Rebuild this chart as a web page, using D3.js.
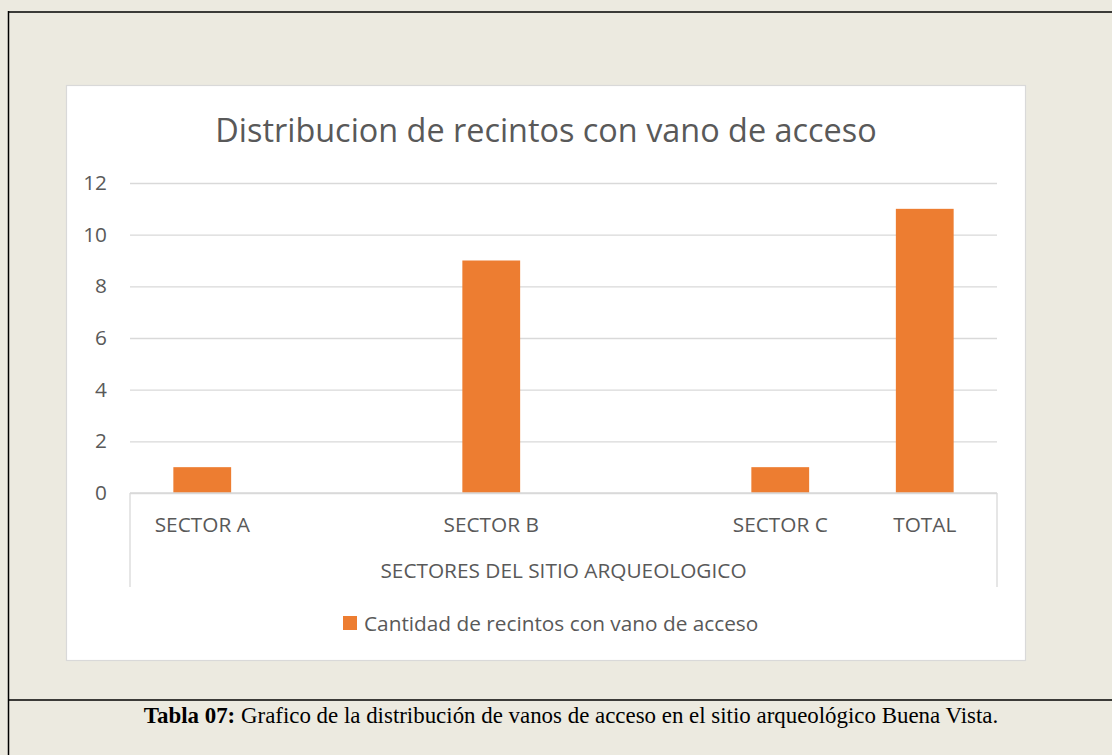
<!DOCTYPE html>
<html>
<head>
<meta charset="utf-8">
<script src="https://cdn.jsdelivr.net/npm/d3@7"></script>
<style>
  html, body { margin: 0; padding: 0; background: #ECEAE0; }
  svg { display: block; }
</style>
</head>
<body>
<svg id="chart" width="1112" height="755"></svg>
<script>
// Categories along the x axis (empty slots are blank positions in the sheet)
const categories = ["SECTOR A", "", "SECTOR B", "", "SECTOR C", "TOTAL"];
// Number of enclosures with an access opening per category
const values = [1, null, 9, null, 1, 11];
const yTicks = [0, 2, 4, 6, 8, 10, 12];
const seriesName = "Cantidad de recintos con vano de acceso";
const groupLabel = "SECTORES DEL SITIO ARQUEOLOGICO";
const title = "Distribucion de recintos con vano de acceso";

const svg = d3.select("#chart");
const textColor = "#595959";
const gridColor = "#D9D9D9";
const barColor = "#ED7D31";
const uiFont = "'Open Sans', Lato, sans-serif";
const labelSize = 20.8;

// Page frame: background, outer rules
svg.append("rect").attr("width", 1112).attr("height", 755).attr("fill", "#ECEAE0");
svg.append("line").attr("x1", 8).attr("x2", 1112).attr("y1", 12).attr("y2", 12)
  .attr("stroke", "#000").attr("stroke-width", 1.5);
svg.append("line").attr("x1", 8.5).attr("x2", 8.5).attr("y1", 11).attr("y2", 755)
  .attr("stroke", "#000").attr("stroke-width", 1.5);
svg.append("line").attr("x1", 8).attr("x2", 1112).attr("y1", 700).attr("y2", 700)
  .attr("stroke", "#000").attr("stroke-width", 1.5);

// Chart area
svg.append("rect").attr("x", 66.5).attr("y", 85.5).attr("width", 959).attr("height", 575)
  .attr("fill", "#fff").attr("stroke", gridColor).attr("stroke-width", 1.2);

const plot = { left: 130, right: 997, top: 183, bottom: 493 };

const x = d3.scaleBand()
  .domain(d3.range(categories.length))
  .range([plot.left, plot.right])
  .paddingInner(0.6).paddingOuter(0.3);

// Band used for category labels (full slot width)
const slot = d3.scaleBand()
  .domain(d3.range(categories.length))
  .range([plot.left, plot.right]);

const y = d3.scaleLinear().domain([0, 12]).range([plot.bottom, plot.top]);

// Title
svg.append("text")
  .attr("x", 546).attr("y", 142)
  .attr("text-anchor", "middle")
  .attr("font-family", uiFont).attr("font-size", 32.4)
  .attr("fill", textColor)
  .text(title);

// Gridlines and y labels
const yAxis = d3.axisLeft(y).tickValues(yTicks).tickSize(-(plot.right - plot.left)).tickPadding(23);
const gy = svg.append("g").attr("transform", `translate(${plot.left},0)`).call(yAxis);
gy.select(".domain").remove();
gy.selectAll(".tick line").attr("stroke", gridColor).attr("stroke-width", 1.3);
gy.selectAll(".tick text")
  .attr("font-family", uiFont).attr("font-size", labelSize).attr("fill", textColor);

// Bars
svg.append("g").selectAll("rect")
  .data(values.map((v, i) => ({ i, v })).filter(d => d.v != null))
  .join("rect")
  .attr("x", d => x(d.i))
  .attr("width", x.bandwidth())
  .attr("y", d => y(d.v))
  .attr("height", d => y(0) - y(d.v))
  .attr("fill", barColor);

// Category axis with group level
const gx = svg.append("g");
gx.append("line").attr("x1", plot.left).attr("x2", plot.right)
  .attr("y1", plot.bottom).attr("y2", plot.bottom)
  .attr("stroke", gridColor).attr("stroke-width", 1.3);
[plot.left, plot.right].forEach(px => {
  gx.append("line").attr("x1", px).attr("x2", px)
    .attr("y1", plot.bottom).attr("y2", 587)
    .attr("stroke", gridColor).attr("stroke-width", 1.3);
});
gx.selectAll("text.cat")
  .data(categories.map((c, i) => ({ c, i })).filter(d => d.c))
  .join("text")
  .attr("class", "cat")
  .attr("x", d => slot(d.i) + slot.bandwidth() / 2)
  .attr("y", 532)
  .attr("text-anchor", "middle")
  .attr("font-family", uiFont).attr("font-size", labelSize).attr("fill", textColor)
  .text(d => d.c);
gx.append("text")
  .attr("x", (plot.left + plot.right) / 2).attr("y", 578)
  .attr("text-anchor", "middle")
  .attr("font-family", uiFont).attr("font-size", labelSize).attr("fill", textColor)
  .text(groupLabel);

// Legend
const lg = svg.append("g").attr("transform", "translate(343,616)");
lg.append("rect").attr("width", 14).attr("height", 14).attr("fill", barColor);
lg.append("text").attr("x", 21).attr("y", 14.5)
  .attr("font-family", uiFont).attr("font-size", labelSize).attr("fill", textColor)
  .text(seriesName);

// Caption
const cap = svg.append("text")
  .attr("x", 571).attr("y", 723)
  .attr("text-anchor", "middle")
  .attr("font-family", "'Liberation Serif', 'Times New Roman', serif")
  .attr("font-size", 22.9).attr("fill", "#000");
cap.append("tspan").attr("font-weight", "bold").text("Tabla 07:");
cap.append("tspan").text(" Grafico de la distribución de vanos de acceso en el sitio arqueológico Buena Vista.");
</script>
</body>
</html>
